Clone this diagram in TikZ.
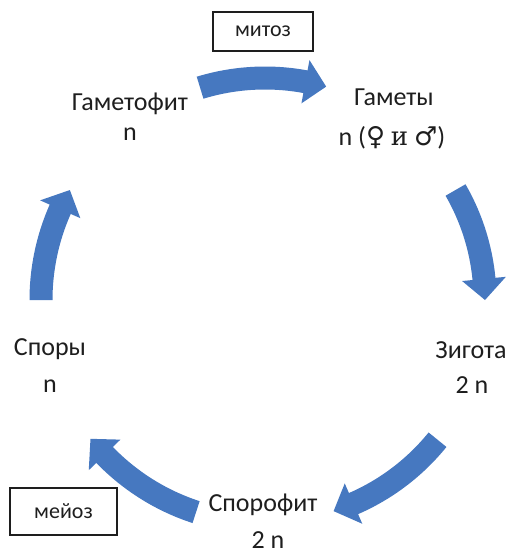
\documentclass[tikz,border=0pt]{standalone}
\usepackage{fontspec}
\setmainfont{Carlito}
\newfontfamily\symfont{DejaVu Sans}
\newfontfamily\serfont{DejaVu Serif}
\definecolor{arrowblue}{RGB}{70,120,192}
\definecolor{txt}{RGB}{30,30,30}
\newcommand\cbarrow[6]{%
  \fill[arrowblue] ({#1}:{#3+#4/2}) arc[start angle=#1, end angle={#2-#6}, radius={#3+#4/2}]
    -- ({#2-#6}:{#3+#5/2}) -- ({#2}:{#3}) -- ({#2-#6}:{#3-#5/2}) -- ({#2-#6}:{#3-#4/2})
    arc[start angle={#2-#6}, end angle=#1, radius={#3-#4/2}] -- cycle;}
\tikzset{
  lbl/.style={anchor=base, text=txt, inner sep=0pt, font=\fontsize{26}{30}\selectfont},
  procbox/.style={draw=txt, line width=1.2pt, text=txt, inner sep=0pt, font=\fontsize{22}{26}\selectfont}
}
\begin{document}
\begin{tikzpicture}[x=1pt,y=-1pt]
\useasboundingbox (0,0) rectangle (515,555);
\begin{scope}[shift={(265,300)}]
  \cbarrow{-107}{-74}{222}{23}{44}{5.5}
  \cbarrow{-30}{0}{220}{23}{44}{5.5}
  \cbarrow{39}{72}{222}{23}{44}{5.5}
  \cbarrow{108}{141.5}{223}{23}{44}{5.5}
  \cbarrow{180}{209.4}{224}{23}{44}{5.5}
\end{scope}
\node[procbox, minimum width=100pt, minimum height=39pt] (mitoz) at (263,31.5) {митоз};
\node[procbox, minimum width=107pt, minimum height=47pt] (meioz) at (63.5,511.5) {мейоз};
\node[lbl] (gf) at (130,110) {Гаметофит};
\node[lbl] (gfn) at (130,140) {n};
\node[lbl] (gm) at (394,105) {Гаметы};
\node[lbl] (gmn) at (392,145) {n ({\symfont ♀} {\serfont и} {\symfont ♂})};
\node[lbl] (zg) at (471,358) {Зигота};
\node[lbl] (zgn) at (472,393) {2 n};
\node[lbl] (sp) at (50,355) {Споры};
\node[lbl] (spn) at (50,392) {n};
\node[lbl] (sf) at (263,511) {Спорофит};
\node[lbl] (sfn) at (268,548) {2 n};
\end{tikzpicture}
\end{document}
